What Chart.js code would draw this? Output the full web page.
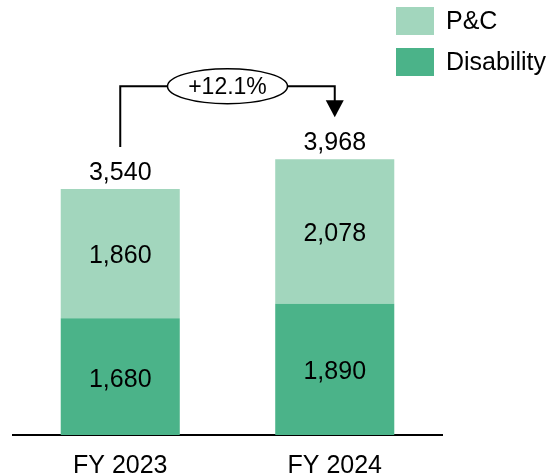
<!DOCTYPE html>
<html>
<head>
<meta charset="utf-8">
<script src="https://cdn.jsdelivr.net/npm/chart.js@4"></script>
<style>
  html, body { margin: 0; padding: 0; background: #fff; }
  #wrap { width: 551px; height: 476px; }
</style>
</head>
<body>
<div id="wrap"><canvas id="chart" width="551" height="476"></canvas></div>
<script>
const categories = ["FY 2023", "FY 2024"];
const disability = [1680, 1890];
const pc = [1860, 2078];
const totals = [3540, 3968];
const growthLabel = "+12.1%";

const FONT = '"Liberation Sans", Arial, sans-serif';
const fmt = v => v.toLocaleString("en-US");

// value labels, totals, growth bracket and legend
const overlay = {
    id: "overlay",
    afterDatasetsDraw(chart) {
        const ctx = chart.ctx;
        ctx.save();
        ctx.fillStyle = "#000";
        ctx.textAlign = "center";
        ctx.font = "25px " + FONT;

        ctx.textBaseline = "middle";
        chart.data.datasets.forEach((ds, i) => {
            chart.getDatasetMeta(i).data.forEach((bar, j) => {
                ctx.fillText(fmt(ds.data[j]), bar.x, (bar.y + bar.base) / 2 + 3);
            });
        });

        const top = chart.getDatasetMeta(chart.data.datasets.length - 1).data;
        ctx.textBaseline = "alphabetic";
        top.forEach((bar, j) => ctx.fillText(fmt(totals[j]), bar.x, bar.y - 9));

        // bracket with arrow
        const b0 = top[0], b1 = top[1];
        const yTop = Math.min(b0.y, b1.y) - 73;
        const tip = b1.y - 42;
        ctx.strokeStyle = "#000";
        ctx.lineWidth = 2;
        ctx.beginPath();
        ctx.moveTo(b0.x, b0.y - 42);
        ctx.lineTo(b0.x, yTop);
        ctx.lineTo(b1.x, yTop);
        ctx.lineTo(b1.x, tip - 16);
        ctx.stroke();
        ctx.beginPath();
        ctx.moveTo(b1.x - 9, tip - 17);
        ctx.lineTo(b1.x + 9, tip - 17);
        ctx.lineTo(b1.x, tip);
        ctx.closePath();
        ctx.fill();

        const cx = (b0.x + b1.x) / 2;
        ctx.beginPath();
        ctx.ellipse(cx, yTop, 60, 17.5, 0, 0, Math.PI * 2);
        ctx.fillStyle = "#fff";
        ctx.fill();
        ctx.lineWidth = 1.5;
        ctx.stroke();
        ctx.fillStyle = "#000";
        ctx.font = "23px " + FONT;
        ctx.textBaseline = "middle";
        ctx.fillText(growthLabel, cx, yTop + 1);

        // legend, P&C first
        ctx.font = "25px " + FONT;
        ctx.textAlign = "left";
        const items = chart.data.datasets.slice().reverse();
        items.forEach((ds, k) => {
            const y = 7 + k * 41;
            ctx.fillStyle = ds.backgroundColor;
            ctx.fillRect(396, y, 38, 28);
            ctx.fillStyle = "#000";
            ctx.fillText(ds.label, 446, y + 15);
        });
        ctx.restore();
    }
};

new Chart(document.getElementById("chart").getContext("2d"), {
    type: "bar",
    data: {
        labels: categories,
        datasets: [
            { label: "Disability", data: disability, backgroundColor: "#4bb389" },
            { label: "P&C", data: pc, backgroundColor: "#a2d6bd" }
        ]
    },
    options: {
        responsive: false,
        animation: false,
        categoryPercentage: 1,
        barPercentage: 0.555,
        layout: { padding: { left: 13, right: 109, top: 18, bottom: 0 } },
        plugins: { legend: { display: false }, tooltip: { enabled: false } },
        scales: {
            x: {
                stacked: true,
                grid: { display: false },
                border: { display: true, color: "#000", width: 2 },
                ticks: { color: "#000", padding: 8, font: { family: FONT, size: 25 } },
                afterFit(scale) { scale.height = 41; }
            },
            y: {
                stacked: true,
                display: false,
                min: 0,
                max: 6000
            }
        }
    },
    plugins: [overlay]
});
</script>
</body>
</html>
